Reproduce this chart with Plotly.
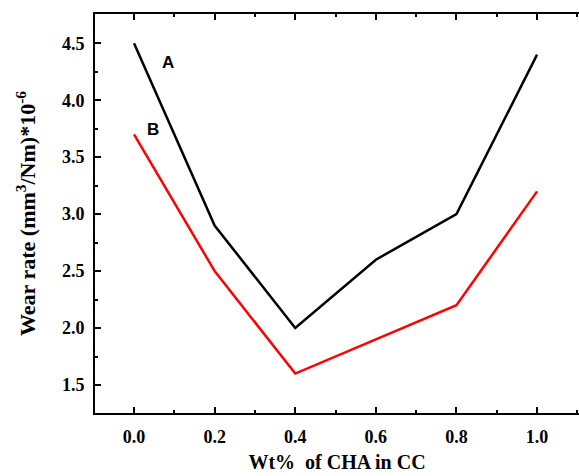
import plotly.graph_objects as go

x_vals = [0.0, 0.2, 0.4, 0.6, 0.8, 1.0]
wear_A = [4.5, 2.9, 2.0, 2.6, 3.0, 4.4]
wear_B = [3.7, 2.5, 1.6, 1.9, 2.2, 3.2]
x_ticks = [0.0, 0.2, 0.4, 0.6, 0.8, 1.0]
x_tick_text = ["0.0", "0.2", "0.4", "0.6", "0.8", "1.0"]
y_ticks = [1.5, 2.0, 2.5, 3.0, 3.5, 4.0, 4.5]
y_tick_text = ["1.5", "2.0", "2.5", "3.0", "3.5", "4.0", "4.5"]

serif = "Liberation Serif, Times New Roman, serif"
sans = "Liberation Sans, Arial, sans-serif"

fig = go.Figure()
fig.add_trace(go.Scatter(x=x_vals, y=wear_A, mode="lines",
                         line=dict(color="black", width=2.5), name="A"))
fig.add_trace(go.Scatter(x=x_vals, y=wear_B, mode="lines",
                         line=dict(color="#ff0000", width=2.5), name="B"))

fig.add_annotation(x=0.085, y=4.33, text="<b>A</b>", showarrow=False,
                   font=dict(family=sans, size=17, color="black"))
fig.add_annotation(x=0.048, y=3.74, text="<b>B</b>", showarrow=False,
                   font=dict(family=sans, size=17, color="black"))

fig.update_layout(
    width=579, height=476,
    margin=dict(l=95, r=0, t=14, b=63),
    paper_bgcolor="white", plot_bgcolor="white",
    showlegend=False,
    font=dict(family=serif, color="black"),
)
fig.update_xaxes(
    range=[-0.0968, 1.104],
    tickvals=x_ticks, ticktext=x_tick_text,
    ticks="inside", ticklen=6, tickwidth=2, tickcolor="black",
    minor=dict(dtick=0.1, tick0=0, ticks="inside", ticklen=3, tickwidth=2, tickcolor="black"),
    showline=True, linewidth=2, linecolor="black", mirror="ticks",
    showgrid=False, zeroline=False,
    ticklabelstandoff=6,
    tickfont=dict(family=serif, size=18, weight="bold"),
    title=dict(text="<b>Wt%  of CHA in CC</b>", font=dict(family=serif, size=20), standoff=9),
)
fig.update_yaxes(
    range=[1.254, 4.757],
    tickvals=y_ticks, ticktext=y_tick_text,
    ticks="inside", ticklen=6, tickwidth=2, tickcolor="black",
    minor=dict(dtick=0.25, tick0=1.5, ticks="inside", ticklen=3, tickwidth=2, tickcolor="black"),
    showline=True, linewidth=2, linecolor="black",
    showgrid=False, zeroline=False,
    ticklabelstandoff=5,
    tickfont=dict(family=serif, size=18, weight="bold"),
    title=dict(text="<b>Wear rate (mm<sup>3</sup>/Nm)*10<sup>-6</sup></b>", font=dict(family=serif, size=22), standoff=20),
)

fig.write_html("out.html")
